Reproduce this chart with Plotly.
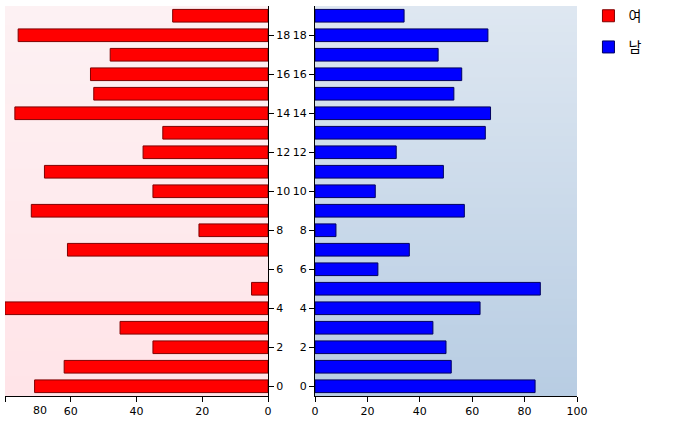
import plotly.graph_objects as go

categories = list(range(20))
female = [71, 62, 35, 45, 80, 5, None, 61, 21, 72, 35, 68, 38, 32, 77, 53, 54, 48, 76, 29]
male = [84, 52, 50, 45, 63, 86, 24, 36, 8, 57, 23, 49, 31, 65, 67, 53, 56, 47, 66, 34]
y_ticks = list(range(0, 20, 2))
left_ticks = [0, 20, 40, 60, 80]
left_ticktext = ["0", "20", "40", "60", ""]
right_ticks = [0, 20, 40, 60, 80, 100]

W, H = 673, 422
ml, mr, mt, mb = 5, 96, 6, 26
pw = W - ml - mr
left_dom = [0, (268 - ml) / pw]
right_dom = [(315 - ml) / pw, 1]

fig = go.Figure()
fig.add_trace(go.Bar(
    y=categories, x=female, orientation="h", name="여",
    xaxis="x", yaxis="y", width=0.65,
    marker=dict(color="#ff0000", line=dict(color="#800000", width=1)),
    legendgroup="f",
))
fig.add_trace(go.Bar(
    y=categories, x=male, orientation="h", name="남",
    xaxis="x2", yaxis="y2", width=0.65,
    marker=dict(color="#0000ff", line=dict(color="#000060", width=1)),
    legendgroup="m",
))


def lerp(c1, c2, t):
    return "rgb(%d,%d,%d)" % tuple(round(a + (b - a) * t) for a, b in zip(c1, c2))


shapes = []
N = 60
for i in range(N):
    t = i / (N - 1)
    y_top = 1 - i / N
    y_bot = max(0, 1 - (i + 1) / N - 0.006)
    shapes.append(dict(type="rect", xref="x domain", yref="y domain",
                       x0=0, x1=1, y0=y_bot, y1=y_top, layer="below",
                       line=dict(width=0),
                       fillcolor=lerp((253, 241, 243), (255, 228, 232), t)))
    shapes.append(dict(type="rect", xref="x2 domain", yref="y2 domain",
                       x0=0, x1=1, y0=y_bot, y1=y_top, layer="below",
                       line=dict(width=0),
                       fillcolor=lerp((222, 231, 241), (184, 205, 227), t)))

tickfont = dict(family="DejaVu Sans, Verdana, sans-serif", size=11, color="#000")

fig.update_layout(
    width=W, height=H,
    margin=dict(l=ml, r=mr, t=mt, b=mb, autoexpand=False),
    paper_bgcolor="white", plot_bgcolor="white",
    shapes=shapes,
    xaxis=dict(domain=left_dom, range=[80, 0], tickvals=left_ticks,
               ticktext=left_ticktext,
               showgrid=False, zeroline=False, showline=True, linecolor="black",
               ticks="outside", ticklen=5, tickcolor="black", tickfont=tickfont,
               anchor="y"),
    yaxis=dict(range=[-0.5, 19.5], side="right", anchor="x",
               tickvals=y_ticks, showgrid=False, zeroline=False,
               showline=True, linecolor="black", ticks="outside", ticklen=5,
               tickcolor="black", tickfont=tickfont),
    xaxis2=dict(domain=right_dom, range=[0, 100], tickvals=right_ticks,
                showgrid=False, zeroline=False, showline=True, linecolor="black",
                ticks="outside", ticklen=5, tickcolor="black", tickfont=tickfont,
                anchor="y2"),
    yaxis2=dict(range=[-0.5, 19.5], side="left", anchor="x2",
                tickvals=y_ticks, showgrid=False, zeroline=False,
                showline=True, linecolor="black", ticks="outside", ticklen=5,
                tickcolor="black", tickfont=tickfont),
    legend=dict(x=1.02, y=1.015, xanchor="left", yanchor="top",
                font=dict(family="Noto Sans CJK KR", size=14, color="#000"),
                tracegroupgap=10, traceorder="grouped",
                bgcolor="rgba(0,0,0,0)"),
    annotations=[dict(text="80", x=left_ticks[-1], xref="x", y=0, yref="paper",
                      xanchor="center", yanchor="top", xshift=35, yshift=-6,
                      showarrow=False, font=tickfont)],
    showlegend=True,
)

fig.write_html("out.html", config={"displayModeBar": False},
               post_script="document.body.style.margin='0';")
